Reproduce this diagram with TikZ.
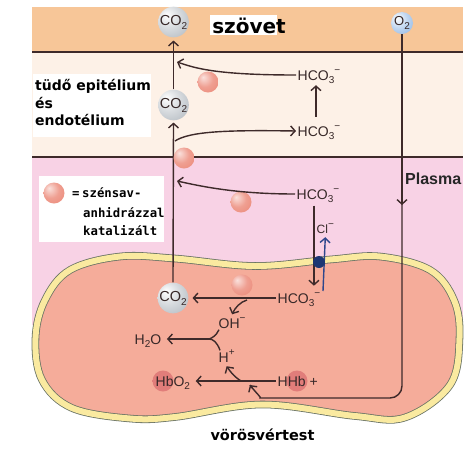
\documentclass[tikz,border=0pt]{standalone}
\usepackage{fontspec}
\setmainfont{Liberation Sans}
\newfontfamily\labfont{DejaVu Sans}
\newfontfamily\legfont{DejaVu Sans Mono}
\usetikzlibrary{arrows.meta,calc}
\definecolor{tissue}{RGB}{247,198,152}
\definecolor{epi}{RGB}{253,241,231}
\definecolor{plasma}{RGB}{248,210,229}
\definecolor{cellc}{RGB}{245,172,154}
\definecolor{memb}{RGB}{250,234,160}
\definecolor{membline}{RGB}{105,115,100}
\definecolor{linec}{RGB}{62,42,42}
\definecolor{bluec}{RGB}{45,70,140}
\definecolor{dotc}{RGB}{28,55,115}
\definecolor{enz}{RGB}{235,135,118}
\definecolor{cog}{RGB}{178,185,192}
\definecolor{o2c}{RGB}{140,180,228}
\definecolor{hbc}{RGB}{225,125,122}
\definecolor{txt}{RGB}{55,40,40}
\pgfdeclareradialshading{coshade}{\pgfpoint{-12bp}{12bp}}{color(0bp)=(white); color(18bp)=(cog!50!white); color(40bp)=(cog); color(62bp)=(cog!70!black)}
\pgfdeclareradialshading{enzshade}{\pgfpoint{-12bp}{12bp}}{color(0bp)=(enz!25!white); color(20bp)=(enz!80!white); color(42bp)=(enz); color(62bp)=(enz!80!black)}
\pgfdeclareradialshading{oshade}{\pgfpoint{-12bp}{12bp}}{color(0bp)=(white); color(20bp)=(o2c!55!white); color(42bp)=(o2c); color(62bp)=(o2c!75!black)}
\pgfdeclareradialshading{hbshade}{\pgfpoint{0bp}{0bp}}{color(0bp)=(hbc); color(30bp)=(hbc); color(50bp)=(hbc!55!cellc)}
\newcommand\chsub[1]{\raisebox{-0.28em}{\fontsize{10}{10}\selectfont #1}}
\newcommand\chsup[1]{\raisebox{0.5em}{\fontsize{10}{10}\selectfont #1}}
\begin{document}
\begin{tikzpicture}[x=1pt,y=-1pt,
  chem/.style={font=\fontsize{14}{14}\selectfont, text=txt, inner sep=1.5pt, text height=10pt, text depth=0pt, anchor=base west},
  arr/.style={draw=linec, line width=1.4pt, -{Straight Barb[length=4.5pt,width=10pt]}},
  ln/.style={draw=linec, line width=1.4pt},
  barr/.style={draw=bluec, line width=1.4pt, -{Straight Barb[length=4.5pt,width=10pt]}},
  coball/.style={circle, minimum size=30pt, inner sep=0pt, shade, shading=coshade, font=\fontsize{14.5}{14.5}\selectfont, text=txt},
  enzball/.style={circle, minimum size=21pt, inner sep=0pt, shade, shading=enzshade},
  oball/.style={circle, minimum size=22pt, inner sep=0pt, shade, shading=oshade, font=\fontsize{13}{13}\selectfont, text=txt},
  hbdisc/.style={circle, minimum size=21pt, inner sep=0pt, shade, shading=hbshade},
  lab/.style={font=\labfont\bfseries\fontsize{14}{14}\selectfont, text=black, inner sep=0pt, anchor=base west},
  leg/.style={font=\legfont\bfseries\fontsize{12.3}{12.3}\selectfont, text=black, inner sep=0pt, anchor=base west}]
\useasboundingbox (0,0) rectangle (472,448);
% backgrounds
\fill[tissue] (32,7) rectangle (463,52);
\fill[epi] (32,52) rectangle (463,157);
\fill[plasma] (32,157) rectangle (463,325);
\draw[ln] (32,52) -- (463,52);
\draw[ln] (32,157) -- (463,157);
% white label boxes
\fill[white] (33,74) rectangle (151,137);
\fill[white] (39,176) rectangle (164,242);
\fill[white] (210,15) rectangle (277,35);
% red cell
\draw[draw=membline, line width=0.8pt, double=memb, double distance=6pt, fill=cellc]
  plot[smooth cycle, tension=0.6] coordinates {
  (35.5,338) (45,300) (70,270) (120,256.5) (175,258.5) (255,266) (330,259.5)
  (380,256.5) (430,270) (454,300) (459.5,338) (450,385) (405,417.5) (355,416)
  (262,404.5) (175,417) (130,418.5) (72,408) (42,380)};
% balls
\node[coball] (coT) at (173.5,22) {CO\chsub{2}};
\node[coball] (coM) at (173.5,105) {CO\chsub{2}};
\node[coball] (coC) at (173,298) {CO\chsub{2}};
\node[oball] (o2) at (402,23) {O\chsub{2}};
\node[enzball] (e1) at (208,82) {};
\node[enzball] (e3) at (241,202) {};
\node[enzball] (e4) at (242,285) {};
\node[enzball] (eL) at (54,193) {};
\node[hbdisc] (hb1) at (163,381) {};
\node[hbdisc] (hb2) at (297,381) {};
% chemical labels
\node[chem] (T1) at (296,80) {HCO\chsub{3}\chsup{−}};
\node[chem] (T2) at (296,136) {HCO\chsub{3}\chsup{−}};
\node[chem] (T3) at (295,199) {HCO\chsub{3}\chsup{−}};
\node[chem] (T4) at (276,303) {HCO\chsub{3}\chsup{−}};
\node[chem] (OH) at (217,328) {OH\chsup{−}};
\node[chem] (H2O) at (133,344) {H\chsub{2}O};
\node[chem] (Hp) at (217,362) {H\chsup{+}};
\node[chem] (HbO) at (154,386) {HbO\chsub{2}};
\node[chem] (HHb) at (276,386) {HHb +};
\node[chem, font=\fontsize{12}{12}\selectfont] (Cl) at (315,233) {Cl\chsup{−}};
% junction coordinates
\coordinate (j1) at (177,62);
\coordinate (j2) at (175,141);
\coordinate (j3) at (177,181);
\coordinate (j4) at (247,300);
\coordinate (yj) at (209,339);
\coordinate (j5) at (241,381);
\coordinate (j6) at (250,385);
\coordinate (oarr) at (402,205);
\coordinate (bl0) at (323,291);
% main CO2 line
\draw[arr] (coC.north) -- ([yshift=-2pt]coM.south);
\draw[arr] (coM.north) -- ([yshift=-3pt]coT.south);
% epithelium
\draw[arr] (T1.west) .. controls (215,75) and (195,68) .. (j1);
\draw[arr] (j2) .. controls (190,131) and (230,130) .. (T2.west);
\draw[arr] ([xshift=-3pt,yshift=7.5pt]T2.north) -- ([xshift=-3pt,yshift=-3.5pt]T1.south);
\node[enzball] (e2) at (184,158) {};
% plasma
\draw[arr] (T3.west) .. controls (235,194) and (200,186) .. (j3);
\draw[arr] ([xshift=-4pt,yshift=-5pt]T3.south) -- ++(0,80);
\draw[barr] (bl0) -- ([yshift=-2.5pt]Cl.south);
\node[circle, fill=dotc, minimum size=12pt, inner sep=0pt] (dot) at (319,262) {};
% O2 path
\draw[ln] (o2.south) {[rounded corners=12pt] -- (402,398) -- (272,398)} .. controls (262,398) and (256,393) .. (j6);
\draw[arr] (j6) ++(2,3) -- (j6);
\draw[arr] (o2.south) -- (oarr);
% inside the cell
\draw[arr] (T4.west) -- ([xshift=4pt]coC.east);
\draw[arr] (j4) .. controls (240,302) and (235,308) .. ([yshift=2pt]OH.north);
\draw[ln] ([xshift=2pt]OH.south west) .. controls (216,336) and (212,338) .. (yj);
\draw[ln] ([xshift=3pt]Hp.north west) .. controls (217,342) and (213,339) .. (yj);
\draw[arr] (yj) -- ([xshift=4pt]H2O.east);
\draw[arr] (HHb.west) -- ([xshift=4pt]HbO.east);
\draw[arr] (j5) .. controls (236,378) and (231,373) .. ([yshift=-2.5pt]Hp.south);
% text labels
\node[font=\labfont\bfseries\fontsize{20}{20}\selectfont, inner sep=0pt, anchor=base] (szov) at (249,33) {szövet};
\node[lab] (l1) at (35,90) {tüdő epitélium};
\node[lab] (l2) at (35,108) {és};
\node[lab] (l3) at (35,125) {endotélium};
\node[leg] (eq) at (72,197) {=};
\node[leg] (g1) at (82,197) {szénsav-};
\node[leg] (g2) at (83,217) {anhidrázzal};
\node[leg] (g3) at (83,235) {katalizált};
\node[font=\bfseries\fontsize{16}{16}\selectfont, text=black!85, inner sep=0pt, anchor=base west] (pl) at (405,184) {Plasma};
\node[font=\labfont\bfseries\fontsize{14.5}{14.5}\selectfont, inner sep=0pt, anchor=base] (vv) at (262.5,440) {vörösvértest};
\end{tikzpicture}
\end{document}
